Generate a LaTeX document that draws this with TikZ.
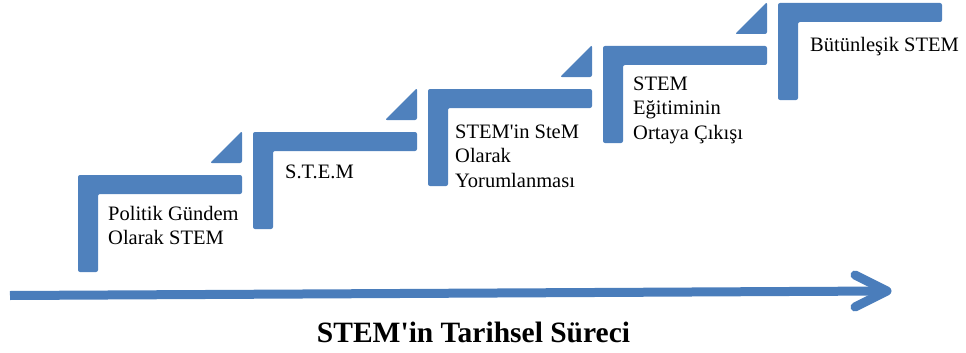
\documentclass[tikz,border=0pt]{standalone}
\usepackage{fontspec}
\setmainfont{Liberation Serif}
\definecolor{stepblue}{RGB}{79,129,189}
\definecolor{arrowblue}{RGB}{74,125,187}
\tikzset{
  stepshape/.style={fill=stepblue, draw=none, rounded corners=2pt},
  steplabel/.style={anchor=base west, inner sep=0pt, font=\fontsize{20.5}{24.5}\selectfont, text=black},
  titlelabel/.style={anchor=base, inner sep=0pt, font=\fontsize{29.5}{34}\selectfont\bfseries, text=black},
  timeline/.style={draw=arrowblue, line width=9pt},
  chevron/.style={draw=arrowblue, line width=9pt, line cap=round, line join=round}
}
\newcommand{\stairbar}[2]{%
  \fill[stepshape] (#1,#2+97) -- (#1,#2) -- (#1+164,#2) -- (#1+164,#2+19) -- (#1+20,#2+19) -- (#1+20,#2+97) -- cycle;}
\newcommand{\stairtri}[2]{%
  \fill[stepshape] (#1+132,#2-12) -- (#1+164,#2-12) -- (#1+164,#2-44) -- cycle;}
\newcommand{\lines}[1]{\begin{tabular}[t]{@{}l@{}}#1\end{tabular}}
\begin{document}
\begin{tikzpicture}[x=1pt,y=-1pt]
\useasboundingbox (0,0) rectangle (966,353);
% steps
\stairbar{78}{175}\stairtri{78}{175}
\stairbar{253}{132}\stairtri{253}{132}
\stairbar{428}{89}\stairtri{428}{89}
\stairbar{603}{46}\stairtri{603}{46}
\stairbar{778}{3}
% labels
\node[steplabel] (s1) at (108,220) {\lines{Politik Gündem\\Olarak STEM}};
\node[steplabel] (s2) at (285,178) {\lines{S.T.E.M}};
\node[steplabel] (s3) at (455,138) {\lines{STEM\textquotesingle in SteM\\Olarak\\Yorumlanması}};
\node[steplabel] (s4) at (633,90) {\lines{STEM\\Eğitiminin\\Ortaya Çıkışı}};
\node[steplabel] (s5) at (810,52) {\lines{Bütünleşik STEM}};
% timeline arrow
\coordinate (tstart) at (10,295.5);
\coordinate (tend) at (886,291);
\coordinate (chup) at (855,275);
\coordinate (chdown) at (855,307);
\coordinate (chtip) at (887,291);
\draw[timeline] (tstart) -- (tend);
\draw[chevron] (chup) -- (chtip) -- (chdown);
% title
\node[titlelabel] (title) at (473.5,342) {STEM\textquotesingle in Tarihsel Süreci};
\end{tikzpicture}
\end{document}
